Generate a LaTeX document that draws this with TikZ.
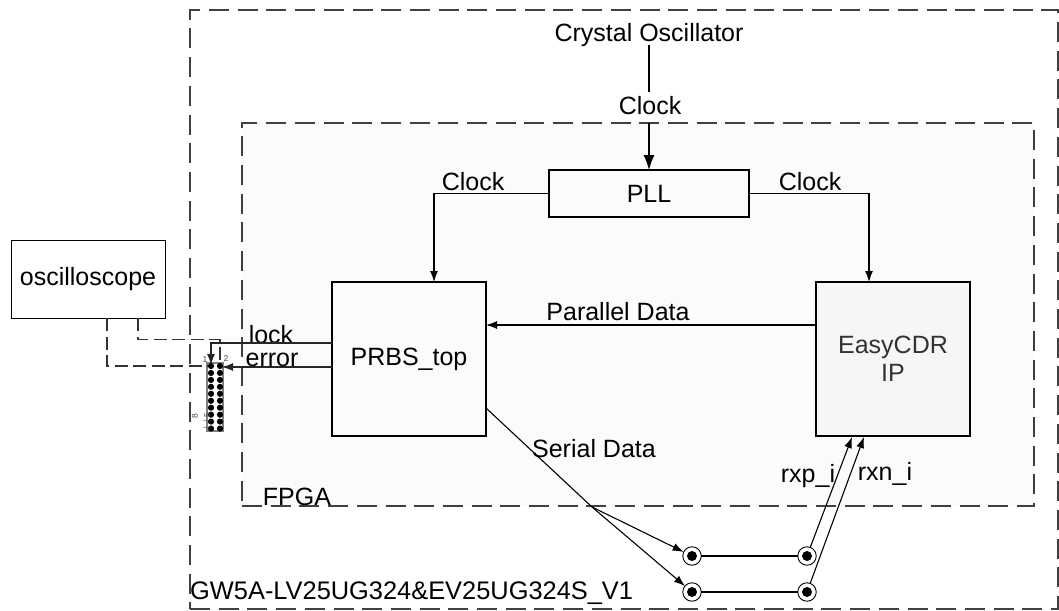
\documentclass[tikz,border=0pt]{standalone}
\usepackage{fontspec}
\setmainfont{Liberation Sans}
\usetikzlibrary{positioning, arrows.meta}
\definecolor{fpgafill}{HTML}{FBFBFB}
\definecolor{cdrfill}{HTML}{F6F6F6}
\tikzset{
 frame/.style={draw=black!75, dash pattern=on 20pt off 8.7pt, line width=1.2pt, inner sep=0pt, outer sep=0pt},
 sqr/.style={rectangle, draw=black, line width=1.7pt, inner sep=0pt, outer sep=0pt, font=\fontsize{25}{25}\selectfont}
}
\begin{document}
\begin{tikzpicture}[x=1pt, y=-1pt]
\tikzstyle{lbl}=[inner sep=0pt, font=\fontsize{25}{25}\selectfont]
\tikzstyle{connect}=[-{Latex[length=11pt,width=8pt]}, line width=1.1pt]
\tikzstyle{bigconnect}=[-{Latex[length=15pt,width=11pt]}, line width=1.2pt]
\tikzstyle{wire}=[line width=1.1pt]
\tikzstyle{probe}=[black!80, line width=1.2pt, dash pattern=on 13pt off 5.5pt]
\tikzstyle{port}=[circle, draw=black, line width=0.9pt, fill=white, minimum size=18.5pt, inner sep=0pt, outer sep=0pt]
\tikzstyle{portdot}=[circle, fill=black, minimum size=10pt, inner sep=0pt]
\tikzstyle{pin}=[circle, fill=black, minimum size=6.2pt, inner sep=0pt]
\tikzstyle{tiny}=[inner sep=0pt, font=\fontsize{8.5}{8.5}\selectfont, black!70]
\useasboundingbox (0,0) rectangle (1059,610);
% 1. Frames
%%%%%%%%%%
\node[frame, minimum width=868pt, minimum height=599pt] (board) at (624,309.5) {};
\node[frame, fill=fpgafill, minimum width=792pt, minimum height=383pt] (fpga) at (638,314.5) {};
% 2. Nodes
%%%%%%%%%%
\node[sqr, minimum width=200pt, minimum height=47pt] (pll) at (649,193.5) {PLL};
\node[sqr, minimum width=154pt, minimum height=154pt] (prbs) at (409,359) {PRBS\_top};
\node[sqr, fill=cdrfill, minimum width=154pt, minimum height=154pt, align=center] (cdr) at (893,359) {\textcolor{black!80}{EasyCDR}\\[3pt]\textcolor{black!80}{IP}};
\node[sqr, line width=1pt, minimum width=154pt, minimum height=78pt] (scope) at (88,279) {oscilloscope};

\node[lbl] (crystal) at (649,35) {Crystal Oscillator};
\node[lbl] (clktop) at (650,106) {Clock};
\node[lbl] (clkleft) at (473,182) {Clock};
\node[lbl] (clkright) at (810,182) {Clock};
\node[lbl] (parallel) at (618,312) {Parallel Data};
\node[lbl] (serial) at (594,449) {Serial Data};
\node[lbl] (lock) at (271,335) {lock};
\node[lbl] (error) at (272,360) {error};
\node[lbl] (rxp) at (808,476) {rxp\_i};
\node[lbl] (rxn) at (885,474) {rxn\_i};
\node[lbl] (fpgatxt) at (297,497) {FPGA};
\node[inner sep=0pt, anchor=west, font=\fontsize{25.4}{25.4}\selectfont] (boardtxt) at (190,593) {GW5A-LV25UG324\&EV25UG324S\_V1};

% header with its pins
\node[rectangle, draw=black!50, fill=white, line width=1.5pt, minimum width=16pt, minimum height=68pt, inner sep=0pt] (header) at (215,397) {};
\foreach \row in {0,...,9}{
  \node[pin] (pa\row) at (211,366+\row*6.95) {};
  \node[pin] (pb\row) at (220,366+\row*6.95) {};
}
\node[tiny] (pinone) at (205,360) {1};
\node[tiny] (pintwo) at (226,359) {2};
\node[tiny, rotate=90] (pineight) at (195,416) {8};
\node[tiny, rotate=90] (pinfive) at (207,415) {5};
\draw[black!60, line width=0.5pt] (203,420) -- (pa8) (203,427) -- (pa9);

% sma ports
\node[port] (txp) at (692,556) {};
\node[port] (txn) at (692,592) {};
\node[port] (rxa) at (807,556) {};
\node[port] (rxb) at (807,592) {};
\foreach \p in {txp,txn,rxa,rxb}
  \node[portdot] (\p dot) at (\p) {};

\coordinate (split) at (592,507);
\coordinate (clkgap) at (649,92);
\coordinate (clkin) at (649,123);
\coordinate (lockout) at (prbs.west |- 0,343);
\coordinate (errorout) at (prbs.west |- 0,367);
\coordinate (serialout) at (prbs.east |- 0,408);
\coordinate (scopea) at (138,318);
\coordinate (scopeb) at (107,318);
\coordinate (parallelout) at (cdr.west |- 0,325);
\coordinate (parallelin) at (prbs.east |- 0,325);
\coordinate (cdrp) at (852,437);
\coordinate (cdrn) at (864,437);
\coordinate (clkstart) at (649,45);
\coordinate (pllinl) at (434,282);
\coordinate (pllinr) at (869,282);
\coordinate (probebend) at (220,339.5);
\coordinate (probeend) at (220,360);
\coordinate (lockin) at (211,365);
\coordinate (errorin) at (222,367);
% 3. Arrows
%%%%%%%%%%%
\draw[wire] (clkstart) -- (clkgap);
\draw[bigconnect] (clkin) -- (pll.north);
\draw[connect] (pll.west) -| (pllinl);
\draw[connect] (pll.east) -| (pllinr);
\draw[connect] (parallelout) -- (parallelin);
\draw[probe] (scopea) |- (probebend) -- (probeend);
\draw[probe] (scopeb) |- (pa0);
\draw[connect, black!85] (lockout) -| (lockin);
\draw[connect, black!85] (errorout) -- (errorin);
\draw[wire] (serialout) -- (split);
\draw[connect] (split) -- (txp);
\draw[connect] (split) -- (txn);
\draw[wire] (txp) -- (rxa);
\draw[wire] (txn) -- (rxb);
\draw[connect] (rxa) -- (cdrp);
\draw[connect] (rxb) -- (cdrn);
\end{tikzpicture}
\end{document}
